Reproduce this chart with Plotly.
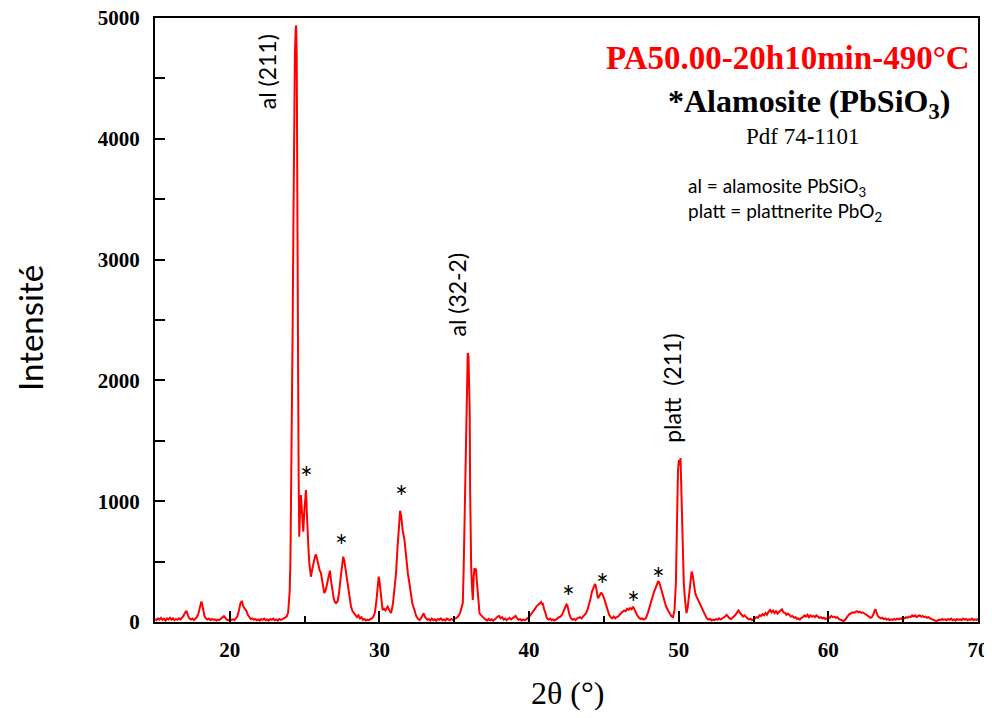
import plotly.graph_objects as go

# ---- data ----
two_theta = [
    15.0, 15.1, 15.2, 15.3, 15.4, 15.5, 15.6, 15.7, 15.8, 15.9,
    16.0, 16.1, 16.2, 16.3, 16.4, 16.5, 16.6, 16.7, 16.8, 16.9,
    17.0, 17.1, 17.2, 17.3, 17.4, 17.5, 17.6, 17.7, 17.8, 17.9,
    18.0, 18.1, 18.15, 18.2, 18.3, 18.4, 18.5, 18.6, 18.7, 18.8, 18.9,
    19.0, 19.1, 19.2, 19.3, 19.4, 19.5, 19.6, 19.7, 19.8, 19.9,
    20.0, 20.1, 20.2, 20.3, 20.4, 20.5, 20.6, 20.7, 20.8, 20.9,
    21.0, 21.1, 21.2, 21.3, 21.4, 21.5, 21.6, 21.7, 21.8, 21.9,
    22.0, 22.1, 22.2, 22.3, 22.4, 22.5, 22.6, 22.7, 22.8, 22.9,
    23.0, 23.1, 23.2, 23.3, 23.4, 23.5, 23.6, 23.7, 23.8, 23.9,
    24.0, 24.05, 24.1, 24.15, 24.2, 24.25, 24.3, 24.35, 24.4, 24.43,
    24.47, 24.5, 24.53, 24.56, 24.6, 24.64, 24.7, 24.75, 24.8, 24.85,
    24.91, 24.97, 25.03, 25.09, 25.15, 25.2, 25.26, 25.32, 25.37, 25.42,
    25.5, 25.6, 25.7, 25.76, 25.83, 25.9, 26.0, 26.09, 26.2, 26.31,
    26.4, 26.5, 26.6, 26.69, 26.78, 26.87, 26.95, 27.03, 27.1, 27.2,
    27.3, 27.4, 27.5, 27.58, 27.66, 27.75, 27.87, 28.0, 28.1, 28.2,
    28.3, 28.43, 28.5, 28.6, 28.7, 28.8, 28.9, 29.0, 29.1, 29.2,
    29.3, 29.4, 29.5, 29.6, 29.7, 29.8, 29.9, 29.95, 30.0, 30.1,
    30.21, 30.3, 30.4, 30.5, 30.55, 30.65, 30.78, 30.9, 31.0, 31.11,
    31.2, 31.3, 31.38, 31.45, 31.55, 31.67, 31.8, 31.9, 32.0, 32.1,
    32.2, 32.34, 32.45, 32.55, 32.67, 32.75, 32.85, 32.95, 33.05, 33.15,
    33.2, 33.3, 33.4, 33.5, 33.6, 33.7, 33.8, 33.9, 34.0, 34.1,
    34.2, 34.3, 34.4, 34.5, 34.6, 34.7, 34.8, 34.9, 35.0, 35.1,
    35.2, 35.3, 35.4, 35.5, 35.57, 35.63, 35.68, 35.74, 35.8, 35.85,
    35.9, 35.95, 36.0, 36.03, 36.06, 36.1, 36.13, 36.18, 36.24, 36.3,
    36.35, 36.4, 36.45, 36.5, 36.57, 36.63, 36.69, 36.8, 36.9, 37.0,
    37.1, 37.2, 37.3, 37.4, 37.5, 37.6, 37.7, 37.8, 37.9, 38.0,
    38.1, 38.2, 38.3, 38.4, 38.5, 38.6, 38.7, 38.8, 38.9, 39.0,
    39.1, 39.2, 39.3, 39.4, 39.5, 39.6, 39.7, 39.8, 39.9, 40.0,
    40.1, 40.2, 40.3, 40.4, 40.5, 40.6, 40.7, 40.8, 40.85, 40.9,
    41.0, 41.1, 41.2, 41.3, 41.4, 41.5, 41.6, 41.7, 41.8, 41.9,
    42.0, 42.1, 42.2, 42.3, 42.4, 42.5, 42.55, 42.6, 42.7, 42.8,
    42.9, 43.0, 43.1, 43.2, 43.3, 43.4, 43.5, 43.6, 43.7, 43.8,
    43.9, 44.0, 44.1, 44.2, 44.3, 44.4, 44.45, 44.5, 44.55, 44.6,
    44.7, 44.8, 44.85, 44.9, 45.0, 45.1, 45.17, 45.25, 45.35, 45.45,
    45.55, 45.65, 45.75, 45.85, 45.95, 46.05, 46.15, 46.25, 46.35, 46.45,
    46.55, 46.65, 46.75, 46.85, 46.95, 47.05, 47.15, 47.25, 47.35, 47.45,
    47.55, 47.65, 47.75, 47.85, 47.95, 48.05, 48.15, 48.25, 48.35, 48.45,
    48.55, 48.62, 48.7, 48.8, 48.9, 48.96, 49.05, 49.15, 49.29, 49.4,
    49.5, 49.62, 49.72, 49.81, 49.89, 49.95, 50.01, 50.07, 50.12, 50.17,
    50.23, 50.28, 50.34, 50.43, 50.52, 50.6, 50.69, 50.78, 50.86, 50.93,
    51.01, 51.1, 51.19, 51.3, 51.41, 51.52, 51.63, 51.75, 51.85, 51.97,
    52.1, 52.2, 52.3, 52.4, 52.5, 52.6, 52.7, 52.8, 52.9, 53.0,
    53.1, 53.2, 53.3, 53.4, 53.5, 53.6, 53.7, 53.8, 53.9, 54.0,
    54.1, 54.2, 54.3, 54.4, 54.5, 54.6, 54.7, 54.8, 54.9, 55.0,
    55.1, 55.2, 55.3, 55.4, 55.5, 55.6, 55.7, 55.8, 55.9, 56.0,
    56.1, 56.2, 56.3, 56.4, 56.5, 56.6, 56.7, 56.8, 56.9, 57.0,
    57.1, 57.2, 57.3, 57.4, 57.5, 57.6, 57.7, 57.8, 57.9, 58.0,
    58.1, 58.2, 58.3, 58.4, 58.5, 58.6, 58.7, 58.8, 58.9, 59.0,
    59.1, 59.2, 59.3, 59.4, 59.5, 59.6, 59.7, 59.8, 59.9, 60.0,
    60.1, 60.2, 60.3, 60.4, 60.5, 60.6, 60.7, 60.8, 60.9, 61.0,
    61.1, 61.2, 61.3, 61.4, 61.5, 61.6, 61.7, 61.8, 61.9, 62.0,
    62.1, 62.2, 62.3, 62.4, 62.5, 62.6, 62.7, 62.8, 62.9, 63.0,
    63.1, 63.15, 63.2, 63.3, 63.4, 63.5, 63.6, 63.7, 63.8, 63.9,
    64.0, 64.1, 64.2, 64.3, 64.4, 64.5, 64.6, 64.7, 64.8, 64.9,
    65.0, 65.1, 65.2, 65.3, 65.4, 65.5, 65.6, 65.7, 65.8, 65.9,
    66.0, 66.1, 66.2, 66.3, 66.4, 66.5, 66.6, 66.7, 66.8, 66.9,
    67.0, 67.1, 67.2, 67.3, 67.4, 67.5, 67.6, 67.7, 67.8, 67.9,
    68.0, 68.1, 68.2, 68.3, 68.4, 68.5, 68.6, 68.7, 68.8, 68.9,
    69.0, 69.1, 69.2, 69.3, 69.4, 69.5, 69.6, 69.7, 69.8, 69.9,
    70.0,
]

intensity = [
    25, 15, 30, 20, 35, 18, 28, 12, 30, 22,
    35, 20, 30, 15, 25, 18, 30, 22, 35, 50,
    75, 92, 55, 30, 20, 28, 15, 25, 40, 70,
    120, 170, 150, 110, 50, 30, 20, 28, 15, 25, 18,
    22, 12, 20, 15, 28, 40, 48, 35, 20, 15,
    25, 18, 22, 15, 30, 45, 90, 150, 175, 130,
    110, 95, 60, 40, 25, 30, 18, 25, 15, 22,
    12, 25, 18, 28, 15, 22, 12, 25, 18, 28,
    15, 22, 12, 25, 18, 22, 28, 35, 45, 80,
    250, 500, 1000, 1900, 2450, 3300, 4200, 4700, 4900, 4940,
    4700, 3300, 3200, 2200, 1200, 706, 950, 1051, 950, 820,
    748, 900, 1060, 1093, 900, 720, 596, 480, 420, 375,
    430, 500, 545, 560, 520, 470, 430, 405, 320, 240,
    260, 320, 400, 425, 330, 240, 190, 165, 157, 170,
    240, 360, 480, 541, 500, 420, 348, 220, 127, 90,
    75, 58, 40, 55, 30, 40, 18, 25, 12, 20,
    15, 25, 30, 45, 80, 180, 330, 375, 340, 200,
    99, 110, 95, 120, 127, 100, 74, 150, 260, 405,
    600, 820, 921, 880, 760, 679, 500, 400, 323, 220,
    150, 99, 50, 30, 17, 25, 45, 72, 40, 20,
    18, 25, 12, 28, 15, 22, 10, 25, 18, 30,
    15, 22, 12, 28, 20, 15, 25, 18, 28, 30,
    40, 55, 80, 120, 157, 450, 844, 1300, 1647, 2000,
    2227, 2200, 1900, 1755, 1093, 600, 458, 300, 182, 380,
    447, 430, 440, 350, 240, 140, 72, 55, 40, 30,
    20, 12, 25, 15, 22, 10, 20, 35, 45, 50,
    30, 40, 20, 28, 15, 25, 35, 22, 30, 40,
    50, 30, 18, 25, 12, 20, 15, 22, 28, 40,
    60, 75, 95, 110, 130, 140, 155, 165, 145, 160,
    110, 60, 30, 20, 28, 15, 22, 12, 25, 30,
    40, 45, 60, 85, 120, 145, 140, 110, 60, 30,
    20, 25, 15, 28, 35, 40, 30, 45, 55, 70,
    100, 140, 190, 250, 290, 314, 305, 260, 210, 196,
    215, 240, 237, 230, 200, 160, 127, 90, 60, 40,
    30, 45, 30, 40, 45, 60, 75, 85, 95, 90,
    110, 100, 115, 105, 127, 100, 70, 50, 35, 25,
    30, 20, 25, 45, 80, 127, 160, 200, 250, 280,
    310, 334, 330, 280, 240, 220, 170, 130, 95, 70,
    50, 40, 100, 320, 955, 1250, 1341, 1300, 1357, 1100,
    735, 500, 320, 170, 74, 120, 210, 330, 417, 390,
    300, 240, 210, 180, 160, 130, 100, 60, 35, 20,
    25, 12, 20, 15, 25, 18, 30, 20, 28, 35,
    45, 60, 45, 30, 25, 35, 45, 60, 80, 95,
    75, 60, 45, 55, 40, 30, 22, 28, 15, 20,
    30, 40, 35, 55, 50, 65, 55, 75, 60, 85,
    100, 80, 95, 75, 90, 70, 85, 95, 105, 80,
    75, 60, 70, 55, 45, 50, 35, 40, 25, 30,
    20, 35, 40, 55, 45, 60, 40, 55, 45, 50,
    40, 55, 45, 35, 40, 30, 35, 25, 30, 45,
    35, 50, 40, 45, 35, 40, 25, 20, 10, 8,
    15, 30, 50, 65, 70, 80, 75, 85, 90, 80,
    85, 75, 80, 70, 65, 55, 45, 35, 40, 60,
    95, 105, 85, 50, 40, 30, 35, 25, 30, 20,
    25, 15, 22, 18, 25, 20, 28, 22, 30, 25,
    35, 30, 40, 35, 45, 40, 55, 45, 55, 40,
    50, 55, 45, 50, 40, 45, 35, 40, 30, 25,
    18, 10, 8, 12, 20, 15, 25, 18, 22, 15,
    25, 18, 28, 15, 22, 12, 25, 18, 22, 15,
    28, 20, 25, 15, 22, 18, 28, 15, 22, 18,
    25,
]

x_ticks = [20, 30, 40, 50, 60, 70]
y_ticks = [0, 1000, 2000, 3000, 4000, 5000]

star_x = [25.11, 27.45, 31.47, 42.64, 44.92, 46.99, 48.67]
star_y = [1233, 670, 1076, 248, 348, 199, 397]

peak_labels = ["al (211)", "al (32-2)", "platt  (211)"]
peak_label_x = [22.5, 35.15, 49.54]
peak_label_y = [4553, 2707, 1937]

SERIF = "Liberation Serif, Times New Roman, serif"
SANS = "Lato, Carlito, Liberation Sans, sans-serif"

fig = go.Figure()
fig.add_trace(go.Scatter(
    x=two_theta, y=intensity, mode="lines",
    line=dict(color="#ff0000", width=2),
    showlegend=False, hoverinfo="skip",
))

annotations = []
for sx, sy in zip(star_x, star_y):
    annotations.append(dict(x=sx, y=sy, xref="x", yref="y", text="*",
                            showarrow=False, yshift=-4,
                            font=dict(family=SANS, size=30, color="black")))
for t, lx, ly in zip(peak_labels, peak_label_x, peak_label_y):
    annotations.append(dict(x=lx, y=ly, xref="x", yref="y", text=t, textangle=-90,
                            showarrow=False, font=dict(family=SANS, size=23, color="black")))

# page-pixel positioned texts (converted to paper coords below)
pix_texts = [
    dict(x=972, y=58, text="<b>PA50.00-20h10min-490°C</b>", xanchor="right",
         font=dict(family=SERIF, size=33, color="#ff0000")),
    dict(x=809, y=103, text="<b>*Alamosite (PbSiO<sub>3</sub>)</b>", xanchor="center",
         font=dict(family=SERIF, size=32, color="black")),
    dict(x=803, y=136, text="Pdf 74-1101", xanchor="center",
         font=dict(family=SERIF, size=23, color="black")),
    dict(x=686, y=187, text="al = alamosite PbSiO<sub>3</sub>", xanchor="left",
         font=dict(family=SANS, size=19, color="black")),
    dict(x=686, y=212, text="platt = plattnerite PbO<sub>2</sub>", xanchor="left",
         font=dict(family=SANS, size=19, color="black")),
    dict(x=30, y=328, text="Intensité", xanchor="center", textangle=-90,
         font=dict(family=SANS, size=33, color="black")),
    dict(x=567, y=693, text="2θ (°)", xanchor="center",
         font=dict(family=SERIF, size=32, color="black")),
]

L, R, T, B = 155, 978, 18, 622
for a in pix_texts:
    px, py = a["x"], a["y"]
    a.update(xref="paper", yref="paper", x=(px - L) / (R - L), y=(B - py) / (B - T),
             yanchor="middle", showarrow=False)
    annotations.append(a)

# page has an 8px body margin: size the figure to fit the window and shift margins
OFF = 8
W, H = 984, 702
fig.update_layout(
    width=W, height=H,
    margin=dict(l=L - OFF, r=W + OFF - R, t=T - OFF, b=H + OFF - B),
    paper_bgcolor="white", plot_bgcolor="white",
    annotations=annotations,
    xaxis=dict(
        range=[15, 70], tickvals=x_ticks, ticks="inside", ticklen=11, tickwidth=2,
        tickcolor="black", showline=True, linecolor="black", linewidth=2, mirror=True,
        showgrid=False, zeroline=False, automargin=False, ticklabelstandoff=8,
        ticklabeloverflow="allow",
        minor=dict(dtick=5, tick0=15, ticks="inside", ticklen=6, tickwidth=2,
                   tickcolor="black", showgrid=False),
        tickfont=dict(family=SERIF, size=21, color="black", weight="bold"),
    ),
    yaxis=dict(
        range=[0, 5000], tickvals=y_ticks, ticks="inside", ticklen=10, tickwidth=2,
        tickcolor="black", showline=True, linecolor="black", linewidth=2, mirror=True,
        showgrid=False, zeroline=False, automargin=False, ticklabelstandoff=9,
        ticklabeloverflow="allow",
        minor=dict(dtick=500, tick0=0, ticks="inside", ticklen=10, tickwidth=2,
                   tickcolor="black", showgrid=False),
        tickfont=dict(family=SERIF, size=21, color="black", weight="bold"),
    ),
)

fig.write_html("out.html")
